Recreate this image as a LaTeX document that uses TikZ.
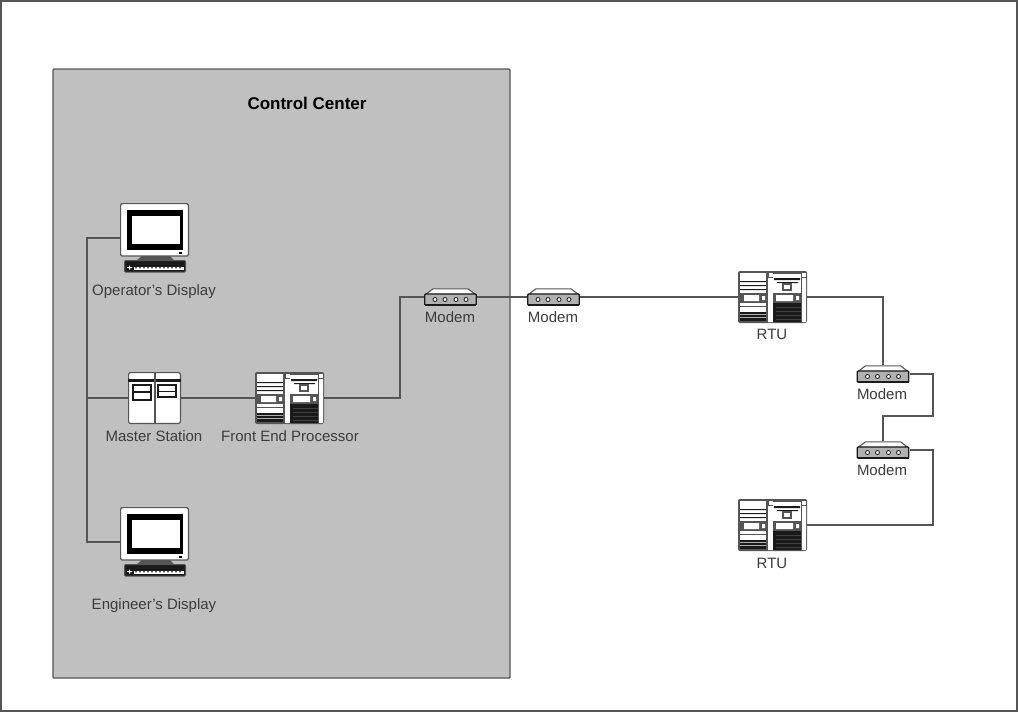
\documentclass[tikz,border=0pt]{standalone}
\usepackage{fontspec}
\setmainfont{Liberation Sans}
\definecolor{edge}{HTML}{555555}
\definecolor{panel}{HTML}{C0C0C0}
\definecolor{ink}{HTML}{1A1A1A}
\tikzset{
  x=1pt,y=1pt,
  wire/.style={draw=edge,line width=1.7},
  icon/.style={inner sep=0,outer sep=0,anchor=north west},
  caption/.style={inner sep=0,font=\fontsize{15}{17}\selectfont,text=ink!85!white},
  monitor/.style={icon,minimum width=69,minimum height=70},
  server/.style={icon,minimum width=69,minimum height=52},
  station/.style={icon,minimum width=53,minimum height=52},
  modem/.style={icon,minimum width=53,minimum height=18},
  servericon/.pic={
  \begin{scope}[yscale=-1]
    \fill[edge,rounded corners=2] (0,0) rectangle (69,52);
    \fill[white] (2,2) rectangle (28,50);
    \fill[ink] (2,10) rectangle (28,11.2) (2,14) rectangle (28,15.2) (2,18) rectangle (28,19.2);
    \fill[edge] (2,22) rectangle (28,32);
    \fill[white] (6,24) rectangle (21,30) (24,25) rectangle (27,29);
    \fill[edge] (2,35) rectangle (28,36.2) ;
    \fill[ink] (2,41) rectangle (28,50);
    \fill[white] (2,43) rectangle (28,43.6) (2,46) rectangle (28,46.6);
    \fill[white] (30,1) rectangle (35,51) (64,1) rectangle (68,51);
    \filldraw[fill=white,draw=edge,line width=0.8] (30,1.5) rectangle (35,6.5) (63.5,1.5) rectangle (68,6.5);
    \fill[white] (35,3) rectangle (63,22);
    \fill[ink] (36,7) rectangle (62,9) (39,11) rectangle (60,12);
    \fill[edge] (44,12) rectangle (54,20);
    \fill[white] (46,14) rectangle (52,18);
    \fill[edge] (35,22) rectangle (63,32);
    \fill[white] (38,24) rectangle (55,30) (58,25) rectangle (61,29);
    \fill[ink] (35,32) rectangle (63,51);
    \fill[edge] (38,36) rectangle (63,36.7) (38,40) rectangle (63,40.7) (38,44) rectangle (63,44.7) (38,48) rectangle (63,48.7);
  \end{scope}},
  monitoricon/.pic={
  \begin{scope}[yscale=-1]
    \filldraw[fill=white,draw=edge,line width=1.2,rounded corners=1.5] (0.6,0.6) rectangle (68.4,53);
    \fill[black] (7,7) rectangle (63,47);
    \fill[white] (12,13) rectangle (60,41);
    \fill[black] (59,48.5) rectangle (62,51);
    \fill[edge] (22,53) -- (50,53) -- (54,57) -- (17,57) -- cycle;
    \filldraw[fill=ink,draw=edge,line width=1,rounded corners=1] (4.5,57.5) rectangle (65.5,69);
    \fill[white] (14,63.5) rectangle (64,67);
    \foreach \k in {0,...,11} {\fill[ink] (15+4*\k,63.5) -- (17+4*\k,63.5) -- (16+4*\k,66) -- cycle;}
    \fill[white] (7,64) rectangle (12,65) (9,62.5) rectangle (10,66.5);
  \end{scope}},
  stationicon/.pic={
  \begin{scope}[yscale=-1]
      \filldraw[fill=white,draw=edge,line width=1.2,rounded corners=2] (0.6,0.6) rectangle (52.4,51.4);
      \fill[ink] (0,6.5) rectangle (53,9.5);
      \fill[edge] (25.5,0.6) rectangle (27.5,51.4);
      \draw[ink,line width=1.1] (5,13) rectangle (23,20) (5,20) rectangle (23,28) (30,13) rectangle (48,19.5) (30,19.5) rectangle (48,25);
  \end{scope}},
  modemicon/.pic={
  \begin{scope}[yscale=-1]
      \filldraw[fill=white,draw=edge,line width=1.1] (1.5,6.5) -- (9,0.8) -- (44,0.8) -- (51.5,6.5) -- cycle;
      \filldraw[fill=panel!92!black,draw=ink,line width=1.3,rounded corners=1] (0.8,6) rectangle (52.2,17.2);
      \fill[ink] (1,15.6) rectangle (52,18);
      \foreach \cx in {11,21,32,42} {\filldraw[fill=white,draw=ink,line width=0.8] (\cx,11.5) circle (2);}
  \end{scope}}
}
\begin{document}
\begin{tikzpicture}
\useasboundingbox (0,0) rectangle (1018,-713);
\fill[white] (0,0) rectangle (1018,-713);
\draw[edge,line width=1.2] (1,-1) rectangle (1017,-711);
\filldraw[fill=panel,draw=edge,line width=1.4,rounded corners=1] (53,-69) rectangle (510,-678);

\node[caption,font=\fontsize{17}{19}\selectfont\bfseries,text=black] (title) at (307,-103) {Control Center};

\node[monitor] (op) at (120,-203) {};
\node[monitor] (eng) at (120,-507) {};
\node[station] (master) at (128,-372) {};
\node[server] (fep) at (255,-372) {};
\node[modem] (m1) at (424,-288) {};
\node[modem] (m2) at (527,-288) {};
\node[server] (rtu1) at (738,-271) {};
\node[modem] (m3) at (856.5,-365) {};
\node[modem] (m4) at (856.5,-441) {};
\node[server] (rtu2) at (738,-499) {};

\pic at (op.north west) {monitoricon};
\pic at (eng.north west) {monitoricon};
\pic at (master.north west) {stationicon};
\pic at (fep.north west) {servericon};
\pic at (rtu1.north west) {servericon};
\pic at (rtu2.north west) {servericon};
\pic at (m1.north west) {modemicon};
\pic at (m2.north west) {modemicon};
\pic at (m3.north west) {modemicon};
\pic at (m4.north west) {modemicon};

\node[caption] (lop) at (154,-291.5) {Operator's Display};
\node[caption] (lmaster) at (154,-436) {Master Station};
\node[caption] (lfep) at (290,-436) {Front End Processor};
\node[caption] (leng) at (154,-605.5) {Engineer's Display};
\node[caption] (lm1) at (450,-317) {Modem};
\node[caption] (lm2) at (553,-317) {Modem};
\node[caption] (lrtu1) at (772,-334) {RTU};
\node[caption] (lm3) at (882,-394) {Modem};
\node[caption] (lm4) at (882,-470) {Modem};
\node[caption] (lrtu2) at (772,-563) {RTU};

\coordinate (bus) at (87,-398);
\coordinate (riser) at (400,-398);
\coordinate (loopa) at (933,-374);
\coordinate (loopb) at (933,-416);
\coordinate (loopc) at (883,-416);
\coordinate (tail) at (933,-450);

\draw[wire] (op.west) -| (bus) |- (eng.west);
\draw[wire] (bus) -- (master.west);
\draw[wire] (master.east) -- (fep.west);
\draw[wire] (fep.east) -- (riser) |- (m1.west);
\draw[wire] (m1.east) -- (m2.west);
\draw[wire] (m2.east) -- (rtu1.west);
\draw[wire] (rtu1.east) -| (m3.north);
\draw[wire] (m3.east) -- (loopa) -- (loopb) -- (loopc) -- (m4.north);
\draw[wire] (m4.east) -- (tail) |- (rtu2.east);
\end{tikzpicture}
\end{document}
